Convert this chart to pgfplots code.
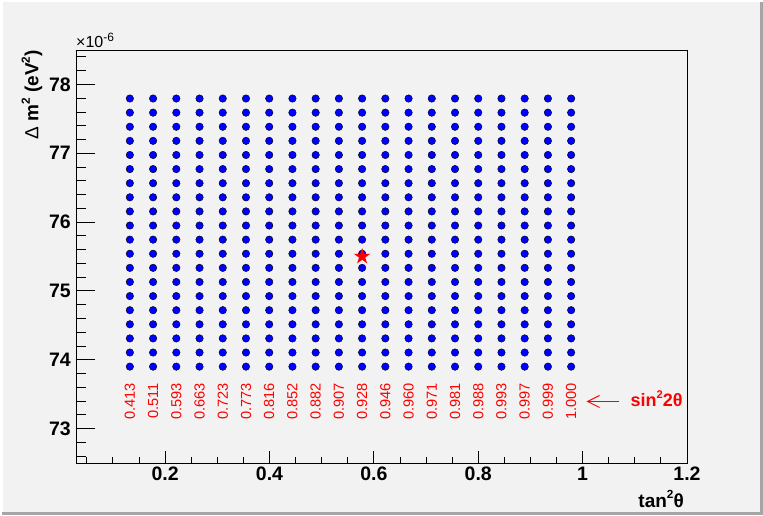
\documentclass[border=0pt]{standalone}
\usepackage{fontspec}
\setmainfont{Liberation Sans}
\usepackage{graphicx}
\usepackage{pgfplots}
\pgfplotsset{compat=1.18}
\usetikzlibrary{arrows.meta}
\definecolor{bgc}{RGB}{242,242,242}
\definecolor{edgec}{RGB}{165,165,165}
\newcommand{\sups}[1]{\raisebox{0.45em}{\scalebox{0.62}{#1}}}
\pgfdeclareplotmark{fstar}{%
\pgfpathmoveto{\pgfpointpolar{90}{\pgfplotmarksize}}%
\pgfpathlineto{\pgfpointpolar{126}{0.382*\pgfplotmarksize}}%
\pgfpathlineto{\pgfpointpolar{162}{\pgfplotmarksize}}%
\pgfpathlineto{\pgfpointpolar{198}{0.382*\pgfplotmarksize}}%
\pgfpathlineto{\pgfpointpolar{234}{\pgfplotmarksize}}%
\pgfpathlineto{\pgfpointpolar{270}{0.382*\pgfplotmarksize}}%
\pgfpathlineto{\pgfpointpolar{306}{\pgfplotmarksize}}%
\pgfpathlineto{\pgfpointpolar{342}{0.382*\pgfplotmarksize}}%
\pgfpathlineto{\pgfpointpolar{18}{\pgfplotmarksize}}%
\pgfpathlineto{\pgfpointpolar{54}{0.382*\pgfplotmarksize}}%
\pgfpathclose\pgfusepathqfill}
\pgfplotstableread{
x y lab
0.1325 73.66 0.413
0.1770 73.66 0.511
0.2215 73.66 0.593
0.2660 73.66 0.663
0.3105 73.66 0.723
0.3550 73.66 0.773
0.3995 73.66 0.816
0.4440 73.66 0.852
0.4885 73.66 0.882
0.5330 73.66 0.907
0.5775 73.66 0.928
0.6220 73.66 0.946
0.6665 73.66 0.960
0.7110 73.66 0.971
0.7555 73.66 0.981
0.8000 73.66 0.988
0.8445 73.66 0.993
0.8890 73.66 0.997
0.9335 73.66 0.999
0.9780 73.66 1.000
}\sintable
\pgfplotsset{
  common/.style={
    at={(76pt,52pt)}, anchor=south west,
    scale only axis, width=611pt, height=413pt,
    xmin=0.0293, xmax=1.2, ymin=72.5, ymax=78.5,
    axis line style={line width=0.9pt, black},
    tick style={line width=0.9pt, black},
    tick align=inside,
    xtick pos=bottom, ytick pos=left,
    /pgf/number format/assume math mode=true,
    ticklabel style={font=\bfseries\fontsize{19.5}{20}\selectfont, inner sep=0pt},
    xticklabel style={yshift=-4pt},
    yticklabel style={xshift=-5pt},
    scaled ticks=false,
  }
}
\begin{document}
\begin{tikzpicture}[x=1pt,y=1pt]
\path[use as bounding box] (0,0) rectangle (763,515);
\fill[bgc] (0,0) rectangle (763,515);
\fill[white] (0,0) rectangle (3,515);
\fill[white] (0,513) rectangle (763,515);
\fill[edgec] (760,0) rectangle (763,513);
\fill[edgec] (2,0) rectangle (763,3);
\begin{axis}[common,
  xtick={0.2,0.4,0.6,0.8,1,1.2},
  xticklabels={0.2,0.4,0.6,0.8,1,1.2},
  minor xtick={0.05,0.1,0.15,0.25,0.3,0.35,0.45,0.5,0.55,0.65,0.7,0.75,0.85,0.9,0.95,1.05,1.1,1.15},
  ytick=\empty,
  major tick length=12pt, minor tick length=6.5pt]
\addplot[only marks, mark=*, mark size=3.75pt, mark options={fill=blue, draw=none}] coordinates {
(0.1325,73.900) (0.1325,74.105) (0.1325,74.310) (0.1325,74.515) (0.1325,74.720) (0.1325,74.925) (0.1325,75.130) (0.1325,75.335) (0.1325,75.540) (0.1325,75.745) (0.1325,75.950) (0.1325,76.155) (0.1325,76.360) (0.1325,76.565) (0.1325,76.770) (0.1325,76.975) (0.1325,77.180) (0.1325,77.385) (0.1325,77.590) (0.1325,77.795)
(0.1770,73.900) (0.1770,74.105) (0.1770,74.310) (0.1770,74.515) (0.1770,74.720) (0.1770,74.925) (0.1770,75.130) (0.1770,75.335) (0.1770,75.540) (0.1770,75.745) (0.1770,75.950) (0.1770,76.155) (0.1770,76.360) (0.1770,76.565) (0.1770,76.770) (0.1770,76.975) (0.1770,77.180) (0.1770,77.385) (0.1770,77.590) (0.1770,77.795)
(0.2215,73.900) (0.2215,74.105) (0.2215,74.310) (0.2215,74.515) (0.2215,74.720) (0.2215,74.925) (0.2215,75.130) (0.2215,75.335) (0.2215,75.540) (0.2215,75.745) (0.2215,75.950) (0.2215,76.155) (0.2215,76.360) (0.2215,76.565) (0.2215,76.770) (0.2215,76.975) (0.2215,77.180) (0.2215,77.385) (0.2215,77.590) (0.2215,77.795)
(0.2660,73.900) (0.2660,74.105) (0.2660,74.310) (0.2660,74.515) (0.2660,74.720) (0.2660,74.925) (0.2660,75.130) (0.2660,75.335) (0.2660,75.540) (0.2660,75.745) (0.2660,75.950) (0.2660,76.155) (0.2660,76.360) (0.2660,76.565) (0.2660,76.770) (0.2660,76.975) (0.2660,77.180) (0.2660,77.385) (0.2660,77.590) (0.2660,77.795)
(0.3105,73.900) (0.3105,74.105) (0.3105,74.310) (0.3105,74.515) (0.3105,74.720) (0.3105,74.925) (0.3105,75.130) (0.3105,75.335) (0.3105,75.540) (0.3105,75.745) (0.3105,75.950) (0.3105,76.155) (0.3105,76.360) (0.3105,76.565) (0.3105,76.770) (0.3105,76.975) (0.3105,77.180) (0.3105,77.385) (0.3105,77.590) (0.3105,77.795)
(0.3550,73.900) (0.3550,74.105) (0.3550,74.310) (0.3550,74.515) (0.3550,74.720) (0.3550,74.925) (0.3550,75.130) (0.3550,75.335) (0.3550,75.540) (0.3550,75.745) (0.3550,75.950) (0.3550,76.155) (0.3550,76.360) (0.3550,76.565) (0.3550,76.770) (0.3550,76.975) (0.3550,77.180) (0.3550,77.385) (0.3550,77.590) (0.3550,77.795)
(0.3995,73.900) (0.3995,74.105) (0.3995,74.310) (0.3995,74.515) (0.3995,74.720) (0.3995,74.925) (0.3995,75.130) (0.3995,75.335) (0.3995,75.540) (0.3995,75.745) (0.3995,75.950) (0.3995,76.155) (0.3995,76.360) (0.3995,76.565) (0.3995,76.770) (0.3995,76.975) (0.3995,77.180) (0.3995,77.385) (0.3995,77.590) (0.3995,77.795)
(0.4440,73.900) (0.4440,74.105) (0.4440,74.310) (0.4440,74.515) (0.4440,74.720) (0.4440,74.925) (0.4440,75.130) (0.4440,75.335) (0.4440,75.540) (0.4440,75.745) (0.4440,75.950) (0.4440,76.155) (0.4440,76.360) (0.4440,76.565) (0.4440,76.770) (0.4440,76.975) (0.4440,77.180) (0.4440,77.385) (0.4440,77.590) (0.4440,77.795)
(0.4885,73.900) (0.4885,74.105) (0.4885,74.310) (0.4885,74.515) (0.4885,74.720) (0.4885,74.925) (0.4885,75.130) (0.4885,75.335) (0.4885,75.540) (0.4885,75.745) (0.4885,75.950) (0.4885,76.155) (0.4885,76.360) (0.4885,76.565) (0.4885,76.770) (0.4885,76.975) (0.4885,77.180) (0.4885,77.385) (0.4885,77.590) (0.4885,77.795)
(0.5330,73.900) (0.5330,74.105) (0.5330,74.310) (0.5330,74.515) (0.5330,74.720) (0.5330,74.925) (0.5330,75.130) (0.5330,75.335) (0.5330,75.540) (0.5330,75.745) (0.5330,75.950) (0.5330,76.155) (0.5330,76.360) (0.5330,76.565) (0.5330,76.770) (0.5330,76.975) (0.5330,77.180) (0.5330,77.385) (0.5330,77.590) (0.5330,77.795)
(0.5775,73.900) (0.5775,74.105) (0.5775,74.310) (0.5775,74.515) (0.5775,74.720) (0.5775,74.925) (0.5775,75.130) (0.5775,75.335) (0.5775,75.540) (0.5775,75.745) (0.5775,75.950) (0.5775,76.155) (0.5775,76.360) (0.5775,76.565) (0.5775,76.770) (0.5775,76.975) (0.5775,77.180) (0.5775,77.385) (0.5775,77.590) (0.5775,77.795)
(0.6220,73.900) (0.6220,74.105) (0.6220,74.310) (0.6220,74.515) (0.6220,74.720) (0.6220,74.925) (0.6220,75.130) (0.6220,75.335) (0.6220,75.540) (0.6220,75.745) (0.6220,75.950) (0.6220,76.155) (0.6220,76.360) (0.6220,76.565) (0.6220,76.770) (0.6220,76.975) (0.6220,77.180) (0.6220,77.385) (0.6220,77.590) (0.6220,77.795)
(0.6665,73.900) (0.6665,74.105) (0.6665,74.310) (0.6665,74.515) (0.6665,74.720) (0.6665,74.925) (0.6665,75.130) (0.6665,75.335) (0.6665,75.540) (0.6665,75.745) (0.6665,75.950) (0.6665,76.155) (0.6665,76.360) (0.6665,76.565) (0.6665,76.770) (0.6665,76.975) (0.6665,77.180) (0.6665,77.385) (0.6665,77.590) (0.6665,77.795)
(0.7110,73.900) (0.7110,74.105) (0.7110,74.310) (0.7110,74.515) (0.7110,74.720) (0.7110,74.925) (0.7110,75.130) (0.7110,75.335) (0.7110,75.540) (0.7110,75.745) (0.7110,75.950) (0.7110,76.155) (0.7110,76.360) (0.7110,76.565) (0.7110,76.770) (0.7110,76.975) (0.7110,77.180) (0.7110,77.385) (0.7110,77.590) (0.7110,77.795)
(0.7555,73.900) (0.7555,74.105) (0.7555,74.310) (0.7555,74.515) (0.7555,74.720) (0.7555,74.925) (0.7555,75.130) (0.7555,75.335) (0.7555,75.540) (0.7555,75.745) (0.7555,75.950) (0.7555,76.155) (0.7555,76.360) (0.7555,76.565) (0.7555,76.770) (0.7555,76.975) (0.7555,77.180) (0.7555,77.385) (0.7555,77.590) (0.7555,77.795)
(0.8000,73.900) (0.8000,74.105) (0.8000,74.310) (0.8000,74.515) (0.8000,74.720) (0.8000,74.925) (0.8000,75.130) (0.8000,75.335) (0.8000,75.540) (0.8000,75.745) (0.8000,75.950) (0.8000,76.155) (0.8000,76.360) (0.8000,76.565) (0.8000,76.770) (0.8000,76.975) (0.8000,77.180) (0.8000,77.385) (0.8000,77.590) (0.8000,77.795)
(0.8445,73.900) (0.8445,74.105) (0.8445,74.310) (0.8445,74.515) (0.8445,74.720) (0.8445,74.925) (0.8445,75.130) (0.8445,75.335) (0.8445,75.540) (0.8445,75.745) (0.8445,75.950) (0.8445,76.155) (0.8445,76.360) (0.8445,76.565) (0.8445,76.770) (0.8445,76.975) (0.8445,77.180) (0.8445,77.385) (0.8445,77.590) (0.8445,77.795)
(0.8890,73.900) (0.8890,74.105) (0.8890,74.310) (0.8890,74.515) (0.8890,74.720) (0.8890,74.925) (0.8890,75.130) (0.8890,75.335) (0.8890,75.540) (0.8890,75.745) (0.8890,75.950) (0.8890,76.155) (0.8890,76.360) (0.8890,76.565) (0.8890,76.770) (0.8890,76.975) (0.8890,77.180) (0.8890,77.385) (0.8890,77.590) (0.8890,77.795)
(0.9335,73.900) (0.9335,74.105) (0.9335,74.310) (0.9335,74.515) (0.9335,74.720) (0.9335,74.925) (0.9335,75.130) (0.9335,75.335) (0.9335,75.540) (0.9335,75.745) (0.9335,75.950) (0.9335,76.155) (0.9335,76.360) (0.9335,76.565) (0.9335,76.770) (0.9335,76.975) (0.9335,77.180) (0.9335,77.385) (0.9335,77.590) (0.9335,77.795)
(0.9780,73.900) (0.9780,74.105) (0.9780,74.310) (0.9780,74.515) (0.9780,74.720) (0.9780,74.925) (0.9780,75.130) (0.9780,75.335) (0.9780,75.540) (0.9780,75.745) (0.9780,75.950) (0.9780,76.155) (0.9780,76.360) (0.9780,76.565) (0.9780,76.770) (0.9780,76.975) (0.9780,77.180) (0.9780,77.385) (0.9780,77.590) (0.9780,77.795)
};
\addplot[only marks, mark=fstar, mark size=8.6pt, mark options={fill=red, draw=none}] coordinates {(0.5775,75.50)};
\addplot[draw=none, mark=none, nodes near coords, point meta=explicit symbolic,
  every node near coord/.append style={rotate=90, anchor=east, inner sep=0pt, text=red, font=\fontsize{14.6}{14.6}\selectfont}]
  table[x=x, y=y, meta=lab] {\sintable};
\draw[red, line width=1pt, -{Straight Barb[length=12pt,width=12pt]}] (axis cs:1.0705,73.394) -- (axis cs:1.0073,73.394);
\node[anchor=base west, inner sep=0pt, text=red, font=\bfseries\fontsize{18}{18}\selectfont] at (axis cs:1.0917,73.321) {sin\sups{2}2θ};
\end{axis}
\begin{axis}[common,
  xtick=\empty,
  ytick={73,74,75,76,77,78},
  yticklabels={73,74,75,76,77,78},
  minor ytick={72.6,72.8,73.2,73.4,73.6,73.8,74.2,74.4,74.6,74.8,75.2,75.4,75.6,75.8,76.2,76.4,76.6,76.8,77.2,77.4,77.6,77.8,78.2,78.4},
  major tick length=19pt, minor tick length=10pt]
\end{axis}
\node[anchor=base east, inner sep=0pt, font=\bfseries\fontsize{19}{19}\selectfont] at (684,8) {tan\sups{2}θ};
\node[rotate=90, anchor=base east, inner sep=0pt, font=\bfseries\fontsize{19}{19}\selectfont] at (38.3,465) {{\mdseries Δ} m\sups{2} (eV\sups{2})};
\node[anchor=base west, inner sep=0pt, font=\fontsize{16}{16}\selectfont] at (76,467) {×10\raisebox{6pt}{\fontsize{12}{12}\selectfont -6}};
\end{tikzpicture}
\end{document}
